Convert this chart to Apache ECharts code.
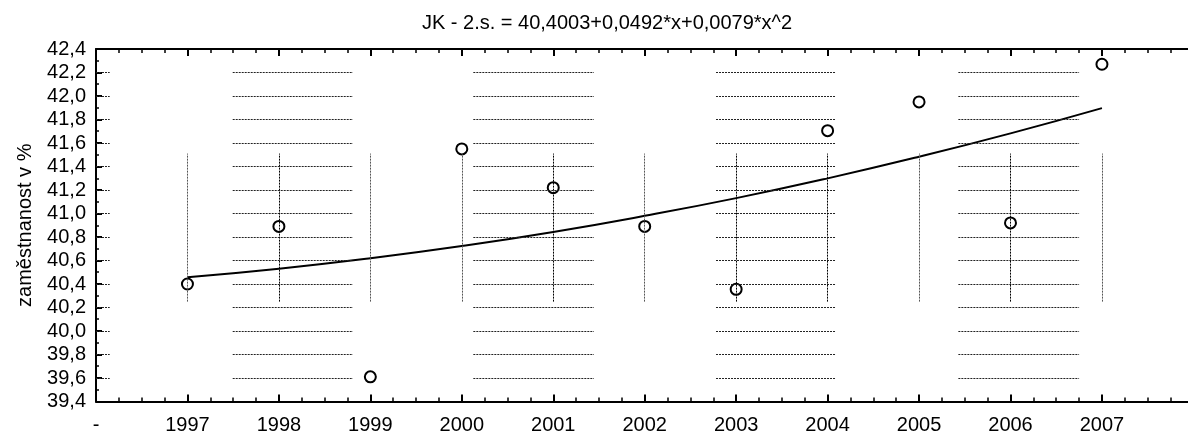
<!DOCTYPE html>
<html>
<head>
<meta charset="utf-8">
<script src="https://cdn.jsdelivr.net/npm/echarts@6/dist/echarts.min.js"></script>
<style>
html,body{margin:0;padding:0;background:#fff;}
#c{width:1188px;height:434px;}
</style>
</head>
<body>
<div id="c"></div>
<script>
// x positions: 0 = "-", 1 = 1997 ... 11 = 2007
var xTickLabels = ["-", "1997", "1998", "1999", "2000", "2001", "2002", "2003", "2004", "2005", "2006", "2007", ""];
var pointX = [1, 2, 3, 4, 5, 6, 7, 8, 9, 10, 11];
var pointY = [40.40, 40.89, 39.61, 41.55, 41.22, 40.89, 40.355, 41.705, 41.95, 40.92, 42.27];
var curveY = [40.457, 40.530, 40.619, 40.723, 40.843, 40.980, 41.131, 41.299, 41.483, 41.682, 41.897];
// background hatch bands (x ranges) and their line levels
var bandStart = [0, 1.495, 4.126, 6.78, 9.43, 11.93];
var bandEnd = [0.15, 2.81, 5.445, 8.09, 10.75, 13.0];
var hatchLevels = [39.6, 39.8, 40.0, 40.2, 40.4, 40.6, 40.8, 41.0, 41.2, 41.4, 41.6, 41.8, 42.0, 42.2];
// vertical drop lines at each year
var vLineLow = 40.25;
var vLineHigh = 41.51;
var vLineDark = [false, true, false, false, true, false, true, true, false, true, false];

var FONT = 'Liberation Sans';
var markData = [];
for (var b = 0; b < bandStart.length; b++) {
  for (var h = 0; h < hatchLevels.length; h++) {
    markData.push([{coord: [bandStart[b], hatchLevels[h]], lineStyle: {color: '#222', width: 1, type: [2, 1]}},
                   {coord: [bandEnd[b], hatchLevels[h]]}]);
  }
}
for (var i = 0; i < pointX.length; i++) {
  markData.push([{coord: [pointX[i], vLineLow], lineStyle: {color: vLineDark[i] ? '#000' : '#555', width: 1, type: [2, 1]}},
                 {coord: [pointX[i], vLineHigh]}]);
}

var chart = echarts.init(document.getElementById('c'), null, {renderer: 'canvas'});
var axisCommon = {
  type: 'value', min: 0, max: 12, interval: 1,
  axisLine: {show: true, lineStyle: {color: '#000', width: 2}},
  axisTick: {show: true, inside: true, length: 7, lineStyle: {color: '#000', width: 2}},
  minorTick: {show: true, splitNumber: 4, length: 4, lineStyle: {color: '#000', width: 1.5}},
  splitLine: {show: false}
};
chart.setOption({
  animation: false,
  title: {
    text: 'JK - 2.s. = 40,4003+0,0492*x+0,0079*x^2',
    left: 602, top: 8, textAlign: 'center',
    textStyle: {fontFamily: FONT, fontSize: 20, fontWeight: 'normal', color: '#000'}
  },
  grid: {left: 96, width: 1097.4, top: 49, bottom: 32.5, containLabel: false, outerBoundsMode: 'none'},
  xAxis: [
    Object.assign({}, axisCommon, {
      position: 'bottom',
      axisLabel: {
        fontFamily: FONT, fontSize: 20, color: '#000', margin: 14,
        formatter: function (v) { return Number.isInteger(v) ? (xTickLabels[v] || '') : ''; }
      }
    }),
    Object.assign({}, axisCommon, {
      position: 'top',
      axisLabel: {show: false}
    })
  ],
  yAxis: {
    type: 'value', min: 39.4, max: 42.4, interval: 0.2,
    name: 'zaměstnanost v %', nameLocation: 'middle', nameGap: 61,
    nameTextStyle: {fontFamily: FONT, fontSize: 20, color: '#000'},
    axisLine: {show: true, lineStyle: {color: '#000', width: 2}},
    axisTick: {show: true, inside: true, length: 6, lineStyle: {color: '#000', width: 2}},
    minorTick: {show: true, splitNumber: 2, length: 3, lineStyle: {color: '#000', width: 1.5}},
    splitLine: {show: false},
    axisLabel: {
      fontFamily: FONT, fontSize: 20, color: '#000', margin: 10,
      formatter: function (v) { return v.toFixed(1).replace('.', ','); }
    }
  },
  series: [
    {
      type: 'line', xAxisIndex: 0, data: [], silent: true,
      markLine: {silent: true, symbol: ['none', 'none'], label: {show: false}, animation: false, data: markData}
    },
    {
      type: 'line', xAxisIndex: 0,
      data: pointX.map(function (x, k) { return [x, curveY[k]]; }),
      smooth: true, showSymbol: false, symbol: 'none',
      lineStyle: {color: '#000', width: 2}, z: 3
    },
    {
      type: 'scatter', xAxisIndex: 0,
      data: pointX.map(function (x, k) { return [x, pointY[k]]; }),
      symbol: 'circle', symbolSize: 11,
      itemStyle: {color: '#fff', borderColor: '#000', borderWidth: 2, opacity: 1}, z: 4
    }
  ]
});
</script>
</body>
</html>
